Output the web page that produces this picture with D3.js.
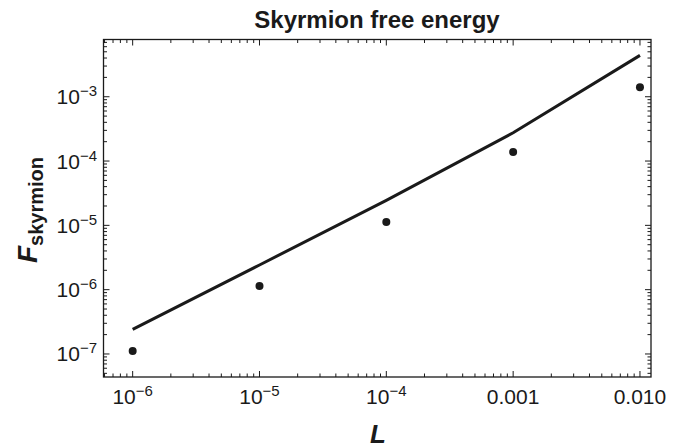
<!DOCTYPE html>
<html><head><meta charset="utf-8">
<script src="https://cdn.jsdelivr.net/npm/d3@7"></script>
<style>body{margin:0;background:#fff;}svg{display:block;font-family:"Liberation Sans",Arial,sans-serif;}</style>
</head><body>
<svg id="chart" width="690" height="448"></svg>
<script>
const title = "Skyrmion free energy";
const xLabel = "L";
const yLabelMain = "F";
const yLabelSub = "skyrmion";
const L = [1e-6, 1e-5, 1e-4, 1e-3, 1e-2];
const fPoints = [1.11e-7, 1.14e-6, 1.13e-5, 1.38e-4, 1.40e-3];
const fLine = [2.42e-7, 2.42e-6, 2.45e-5, 2.75e-4, 4.4e-3];
const xTickValues = [1e-6, 1e-5, 1e-4, 1e-3, 1e-2];
const xTickLabels = ["10^-6", "10^-5", "10^-4", "0.001", "0.010"];
const yTickValues = [1e-7, 1e-6, 1e-5, 1e-4, 1e-3];
const yTickLabels = ["10^-7", "10^-6", "10^-5", "10^-4", "10^-3"];

const svg = d3.select("#chart");
const pL = 103.5, pR = 651, pT = 39.5, pB = 377;
const x = d3.scaleLog().domain([Math.pow(10, -6.23), Math.pow(10, -1.913)]).range([pL, pR]);
const y = d3.scaleLog().domain([Math.pow(10, -7.358), Math.pow(10, -2.11)]).range([pB, pT]);
const ink = "#1a1a1a";

function logTicks(domain) {
  const out = [];
  const lo = Math.floor(Math.log10(domain[0])), hi = Math.ceil(Math.log10(domain[1]));
  for (let e = lo; e <= hi; e++) for (let m = 1; m <= 9; m++) {
    const v = m * Math.pow(10, e);
    if (v >= domain[0] && v <= domain[1]) out.push({v, major: m === 1});
  }
  return out;
}
const tickG = svg.append("g").attr("stroke", ink).attr("stroke-width", 1);
logTicks(x.domain()).forEach(t => {
  const len = t.major ? 6 : 3.5;
  const px = x(t.v);
  tickG.append("line").attr("x1", px).attr("x2", px).attr("y1", pB).attr("y2", pB - len);
  tickG.append("line").attr("x1", px).attr("x2", px).attr("y1", pT).attr("y2", pT + len);
});
logTicks(y.domain()).forEach(t => {
  const len = t.major ? 6 : 3.5;
  const py = y(t.v);
  tickG.append("line").attr("x1", pL).attr("x2", pL + len).attr("y1", py).attr("y2", py);
  tickG.append("line").attr("x1", pR).attr("x2", pR - len).attr("y1", py).attr("y2", py);
});

svg.append("rect").attr("x", pL).attr("y", pT).attr("width", pR - pL).attr("height", pB - pT)
  .attr("fill", "none").attr("stroke", ink).attr("stroke-width", 1.3);

function writeLabel(sel, s) {
  const m = s.match(/^10\^(-?\d+)$/);
  if (m) {
    sel.append("tspan").text("10");
    sel.append("tspan").attr("font-size", 15).attr("dy", -8).text(m[1].replace("-", "\u2212"));
  } else sel.text(s);
}
xTickValues.forEach((v, i) => {
  const t = svg.append("text").attr("x", x(v)).attr("y", 404).attr("text-anchor", "middle")
    .attr("font-size", 21).attr("fill", ink);
  writeLabel(t, xTickLabels[i]);
});
yTickValues.forEach((v, i) => {
  const t = svg.append("text").attr("x", 97).attr("y", y(v) + 7.5).attr("text-anchor", "end")
    .attr("font-size", 21).attr("fill", ink);
  writeLabel(t, yTickLabels[i]);
});

svg.append("path").datum(L.map((l, i) => [l, fLine[i]]))
  .attr("fill", "none").attr("stroke", ink).attr("stroke-width", 3)
  .attr("d", d3.line().x(d => x(d[0])).y(d => y(d[1])));
svg.append("g").selectAll("circle").data(L.map((l, i) => [l, fPoints[i]])).join("circle")
  .attr("cx", d => x(d[0])).attr("cy", d => y(d[1])).attr("r", 4).attr("fill", ink);

svg.append("text").attr("x", 377).attr("y", 28).attr("text-anchor", "middle")
  .attr("font-size", 24).attr("font-weight", "bold").attr("fill", ink).text(title);
svg.append("text").attr("x", 378).attr("y", 443).attr("text-anchor", "middle")
  .attr("font-size", 26).attr("font-weight", "bold").attr("font-style", "italic").attr("fill", ink).text(xLabel);
const yl = svg.append("text").attr("transform", "translate(37,210) rotate(-90)").attr("text-anchor", "middle")
  .attr("font-weight", "bold").attr("fill", ink);
yl.append("tspan").attr("font-size", 28).attr("font-style", "italic").text(yLabelMain);
yl.append("tspan").attr("font-size", 20).attr("dy", 6).text(yLabelSub);
</script>
</body></html>
